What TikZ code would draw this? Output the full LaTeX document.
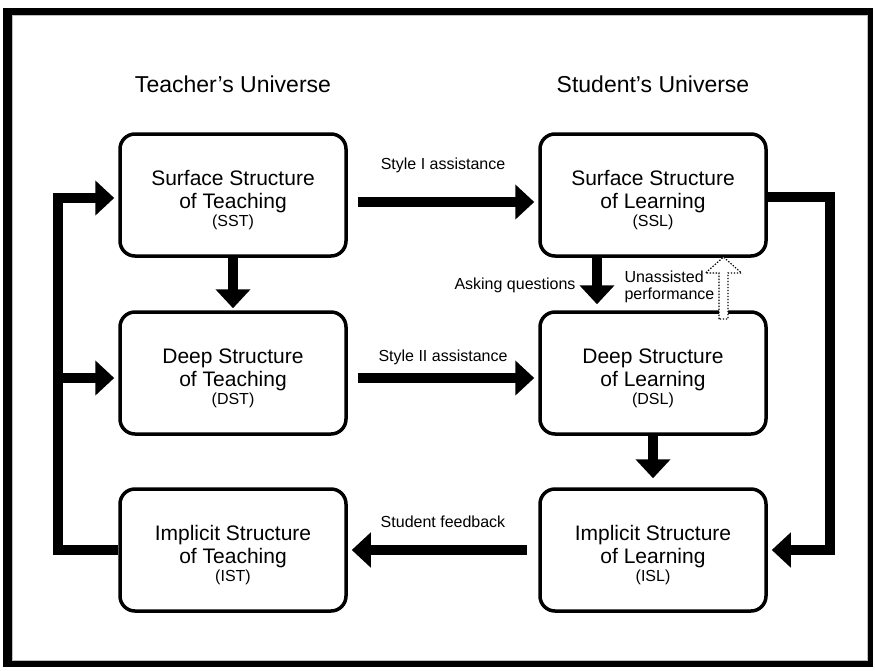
\documentclass[tikz,border=0pt]{standalone}
\usepackage{fontspec}
\setsansfont{Liberation Sans}
\usetikzlibrary{calc, arrows.meta, positioning}

\begin{document}
\begin{tikzpicture}[
    x=1pt, y=-1pt,
    >=Stealth,
    line join=round,
    line cap=round,
    font=\sffamily,
    stbox/.style={draw, line width=3.5pt, rounded corners=15pt, fill=white,
      minimum width=226pt, minimum height=122pt, align=center, inner sep=0pt,
      font=\sffamily\fontsize{21}{23}\selectfont},
    fat/.style={line width=10pt, line cap=butt, line join=miter,
      -{Triangle[length=19pt, width=34pt]}},
    lbl/.style={font=\sffamily\fontsize{16}{17}\selectfont},
    head/.style={font=\sffamily\fontsize{23}{26}\selectfont}
]

  % ==================== PARAMETERS ====================
  \def\xT{233}      % teacher column
  \def\xS{653}      % student column
  \def\ySurf{195}   % surface row
  \def\yDeep{373}   % deep row
  \def\yImpl{550}   % implicit row
  \def\xLoopL{58}   % left feedback line
  \def\xLoopR{830}  % right feedback line
  \def\xUA{723.5}   % dotted arrow
  \def\abbrsize{\fontsize{16}{17}\selectfont}
  \def\topgap{\rule{0pt}{25pt}}

  \useasboundingbox (0,0) rectangle (875,670);

  % ==================== 0. FRAME ====================
  \fill[black] (3,8) rectangle (873,667);
  \fill[white] (12,15) rectangle (868,661);
  \draw[gray!50, line width=1pt] (12.5,15.5) rectangle (867.5,660.5);

  % ==================== 1. HEADINGS ====================
  \node[head] (teacherU) at (\xT,84) {Teacher's Universe};
  \node[head] (studentU) at (\xS,84) {Student's Universe};

  % ==================== 2. BOXES ====================
  \node[stbox] (SST) at (\xT,\ySurf) {\topgap Surface Structure\\of Teaching\\[-5pt]{\abbrsize (SST)}};
  \node[stbox] (SSL) at (\xS,\ySurf) {\topgap Surface Structure\\of Learning\\[-5pt]{\abbrsize (SSL)}};
  \node[stbox] (DST) at (\xT,\yDeep) {\topgap Deep Structure\\of Teaching\\[-5pt]{\abbrsize (DST)}};
  \node[stbox] (DSL) at (\xS,\yDeep) {\topgap Deep Structure\\of Learning\\[-5pt]{\abbrsize (DSL)}};
  \node[stbox] (IST) at (\xT,\yImpl) {\topgap Implicit Structure\\of Teaching\\[-5pt]{\abbrsize (IST)}};
  \node[stbox] (ISL) at (\xS,\yImpl) {\topgap Implicit Structure\\of Learning\\[-5pt]{\abbrsize (ISL)}};

  % ==================== 3. ASSISTANCE ====================
  \draw[fat, shorten <=10pt, shorten >=4pt] ([yshift=-7pt]SST.east) -- ([yshift=-7pt]SSL.west)
    node[lbl, midway, yshift=37pt] (styleI) {Style I assistance};
  \draw[fat, shorten <=10pt, shorten >=4pt] ([yshift=-5pt]DST.east) -- ([yshift=-5pt]DSL.west)
    node[lbl, midway, yshift=21pt] (styleII) {Style II assistance};
  \draw[fat, shorten <=11pt, shorten >=4pt] (ISL.west) -- (IST.east)
    node[lbl, midway, yshift=28pt] (feedback) {Student feedback};

  % ==================== 4. DOWNWARDS ====================
  \draw[fat, shorten >=2pt] (SST.south) -- (DST.north);
  \draw[fat, shorten >=6pt] ([xshift=-56pt]SSL.south) -- ([xshift=-56pt]DSL.north);
  \node[lbl, anchor=east] (asking) at (579,285) {Asking questions};
  \draw[fat, shorten >=9pt] (DSL.south) -- (ISL.north);

  % Unassisted performance (dotted, hollow)
  \draw[dash pattern=on 1.4pt off 1.6pt, line cap=butt, line width=1.2pt, line join=miter, fill=white]
    (\xUA-4.5,319) -- (\xUA-4.5,273) -- (\xUA-18,273) -- (\xUA,257)
    -- (\xUA+18,273) -- (\xUA+4.5,273) -- (\xUA+4.5,319) -- cycle;
  \node[lbl, align=left, anchor=west] (unassisted) at (621,287) {Unassisted\\performance};

  % ==================== 5. FEEDBACK LOOPS ====================
  \coordinate (loopL) at (\xLoopL,\yImpl);
  \coordinate (DSTin) at ([yshift=-5pt]DST.west);
  \draw[fat, shorten >=4pt] (IST.west) -- (loopL) |- ([yshift=-3pt]SST.west);
  \draw[fat, shorten >=4pt] (loopL |- DSTin) -- (DSTin);

  \coordinate (loopR) at (\xLoopR,\ySurf);
  \draw[fat, shorten >=4pt] ([yshift=-2pt]SSL.east) -- ([yshift=-2pt]loopR) |- (ISL.east);

\end{tikzpicture}
\end{document}
